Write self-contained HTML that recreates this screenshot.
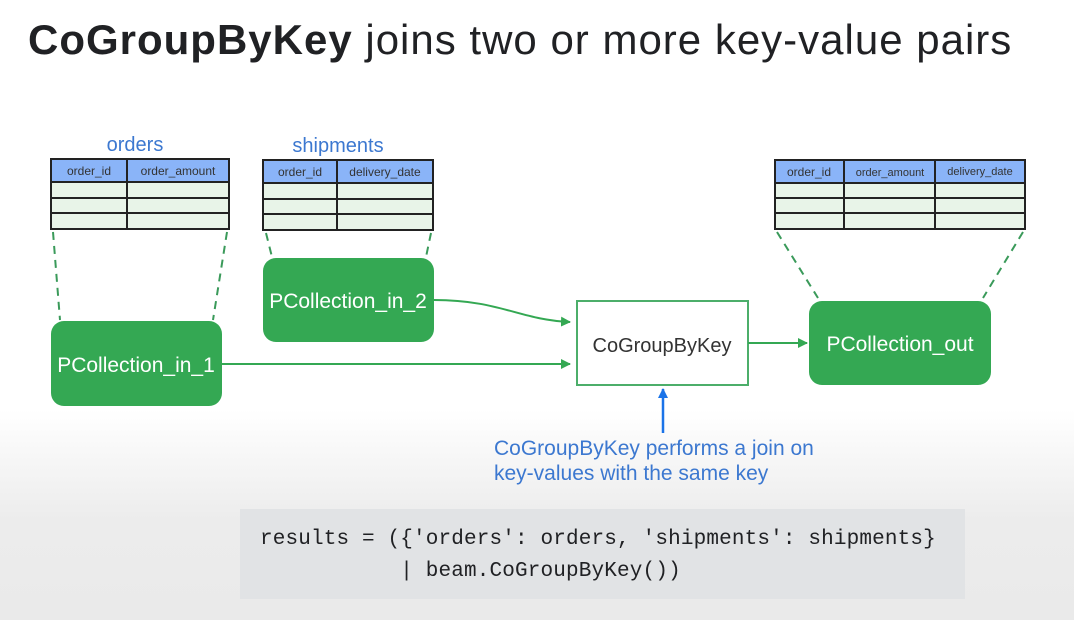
<!DOCTYPE html>
<html><head><meta charset="utf-8"><style>
body{margin:0;width:1074px;height:620px;overflow:hidden;background:linear-gradient(#fff 0,#fff 410px,#ececec 520px,#eaeaea 620px);font-family:"Liberation Sans",sans-serif;position:relative}
.t{position:absolute;left:28px;top:16px;font-size:42px;color:#202124;white-space:nowrap;letter-spacing:1px}
.code{position:absolute;left:240px;top:509px;width:725px;height:90px;background:#e1e3e5}
.code pre{margin:0;position:absolute;left:20px;top:15px;font-family:"Liberation Mono",monospace;font-size:21px;line-height:32px;color:#202124;letter-spacing:0.15px}
</style></head><body>
<div class="t"><b>CoGroupByKey</b> joins two or more key-value pairs</div>
<svg width="1074" height="620" style="position:absolute;left:0;top:0" font-family="Liberation Sans, sans-serif">
<defs>
<marker id="g" markerWidth="10" markerHeight="10" refX="9" refY="5" orient="auto" markerUnits="userSpaceOnUse" viewBox="0 0 10 10"><path d="M0,0L10,5L0,10z" fill="#34a853"/></marker>
<marker id="b" markerWidth="10" markerHeight="10" refX="9" refY="5" orient="auto" markerUnits="userSpaceOnUse" viewBox="0 0 10 10"><path d="M0,0L10,5L0,10z" fill="#1a73e8"/></marker>
</defs>
<text x="135" y="151" font-size="20" fill="#3c78d0" text-anchor="middle">orders</text>
<text x="338" y="152" font-size="20" fill="#3c78d0" text-anchor="middle">shipments</text>
<g stroke="#222" stroke-width="2">
<rect x="51" y="159" width="178" height="23" fill="#8ab4f8"/>
<rect x="51" y="182" width="178" height="47" fill="#e8f4e8"/>
<line x1="51" y1="198" x2="229" y2="198"/><line x1="51" y1="213" x2="229" y2="213"/><line x1="127" y1="159" x2="127" y2="229"/>
<rect x="263" y="160" width="170" height="23" fill="#8ab4f8"/>
<rect x="263" y="183" width="170" height="47" fill="#e8f4e8"/>
<line x1="263" y1="199" x2="433" y2="199"/><line x1="263" y1="214" x2="433" y2="214"/><line x1="337" y1="160" x2="337" y2="230"/>
<rect x="775" y="160" width="250" height="23" fill="#8ab4f8"/>
<rect x="775" y="183" width="250" height="46" fill="#e8f4e8"/>
<line x1="775" y1="198" x2="1025" y2="198"/><line x1="775" y1="213" x2="1025" y2="213"/><line x1="844" y1="160" x2="844" y2="229"/><line x1="935" y1="160" x2="935" y2="229"/>
</g>
<g font-size="12" fill="#333" text-anchor="middle">
<text x="89" y="175">order_id</text><text x="178" y="175">order_amount</text>
<text x="300" y="176">order_id</text><text x="385" y="176">delivery_date</text>
<text x="809" y="176">order_id</text><text x="890" y="176" font-size="11">order_amount</text><text x="980" y="175" font-size="11">delivery_date</text>
</g>
<g stroke="#3a9a5a" stroke-width="2" stroke-dasharray="8,6" fill="none">
<line x1="53" y1="232" x2="60" y2="320"/><line x1="227" y1="232" x2="213" y2="320"/>
<line x1="266" y1="233" x2="272" y2="257"/><line x1="431" y1="233" x2="426" y2="257"/>
<line x1="777" y1="232" x2="818" y2="298"/><line x1="1023" y1="232" x2="983" y2="298"/>
</g>
<rect x="51" y="321" width="171" height="85" rx="13" fill="#34a853"/>
<rect x="263" y="258" width="171" height="84" rx="13" fill="#34a853"/>
<rect x="809" y="301" width="182" height="84" rx="13" fill="#34a853"/>
<rect x="577" y="301" width="171" height="84" fill="#fff" stroke="#4cae6a" stroke-width="2"/>
<g font-size="21" fill="#fff" text-anchor="middle">
<text x="136" y="372">PCollection_in_1</text>
<text x="348" y="308">PCollection_in_2</text>
<text x="900" y="351">PCollection_out</text>
</g>
<text x="662" y="352" font-size="20" fill="#333" text-anchor="middle">CoGroupByKey</text>
<g stroke="#34a853" stroke-width="2" fill="none">
<path d="M434,300 C500,300 520,320 570,322" marker-end="url(#g)"/>
<line x1="222" y1="364" x2="570" y2="364" marker-end="url(#g)"/>
<line x1="748" y1="343" x2="807" y2="343" marker-end="url(#g)"/>
</g>
<line x1="663" y1="433" x2="663" y2="389" stroke="#1a73e8" stroke-width="2.5" marker-end="url(#b)"/>
<g font-size="21" fill="#3c78d0" letter-spacing="0">
<text x="494" y="455">CoGroupByKey performs a join on</text>
<text x="494" y="480">key-values with the same key</text>
</g>
</svg>
<div class="code"><pre>results = ({'orders': orders, 'shipments': shipments}
           | beam.CoGroupByKey())</pre></div>
</body></html>
